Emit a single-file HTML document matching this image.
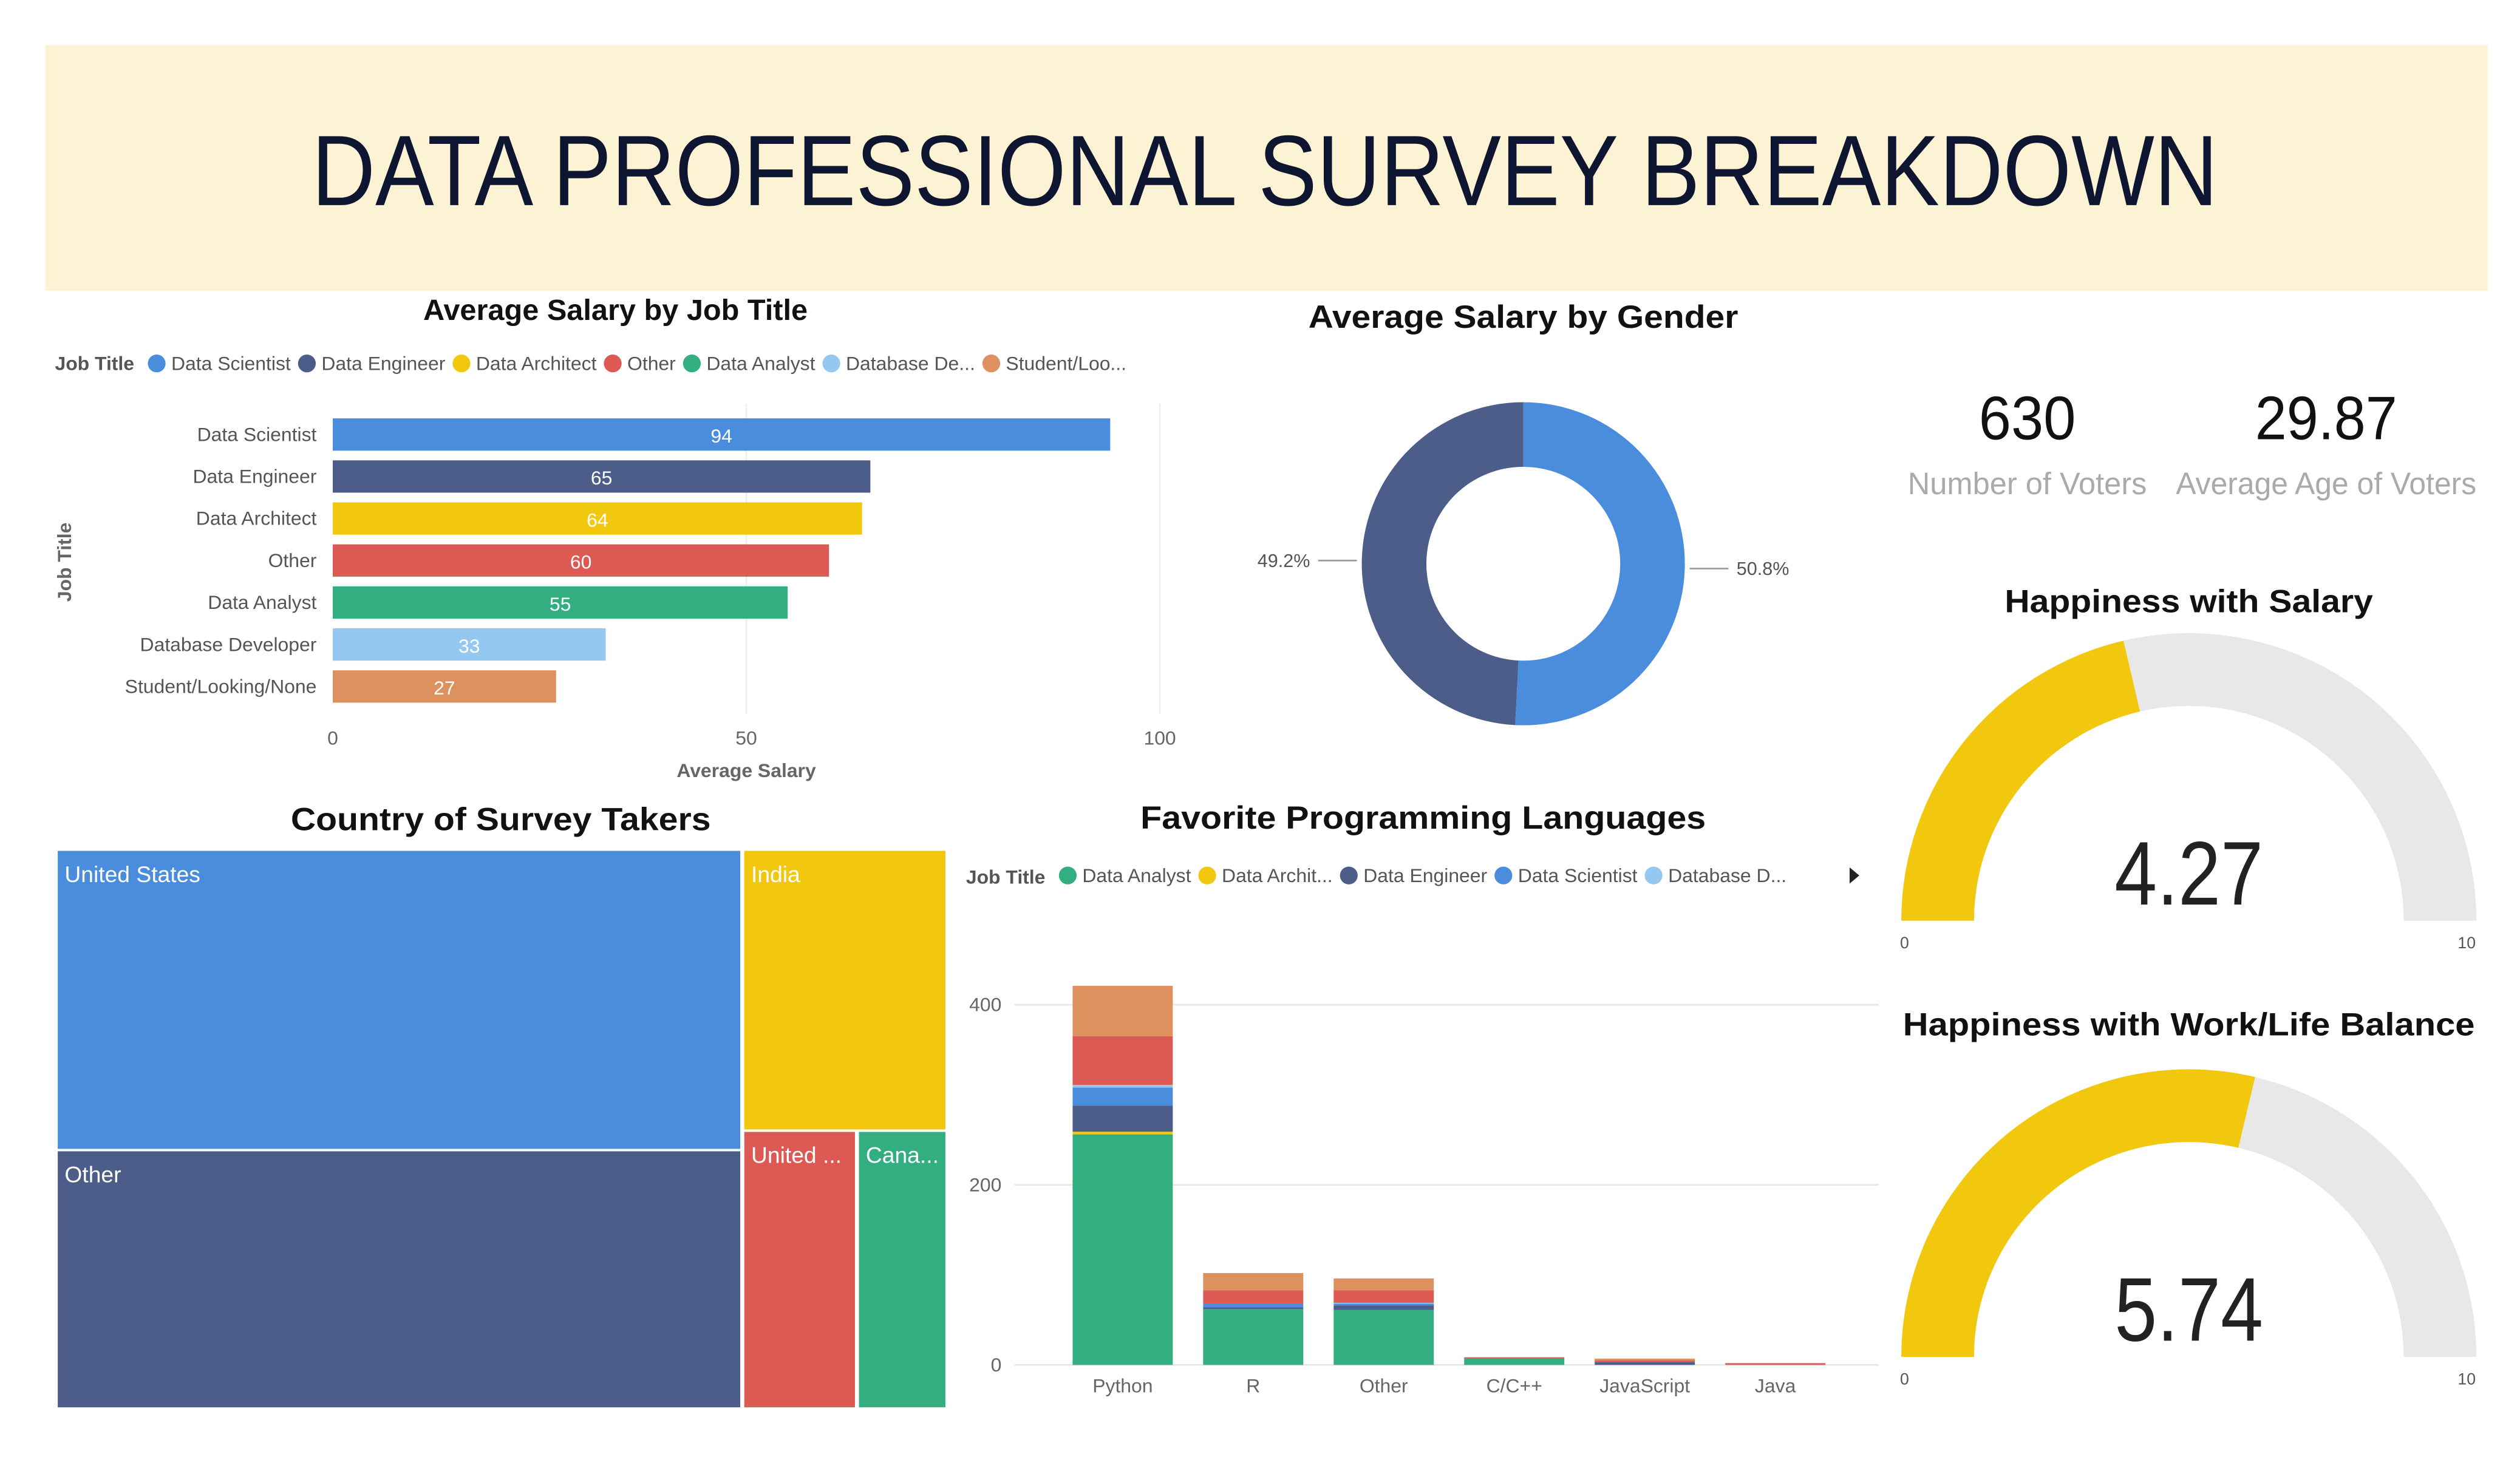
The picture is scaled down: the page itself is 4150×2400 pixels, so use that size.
<!DOCTYPE html>
<html><head><meta charset="utf-8"><style>
html,body{margin:0;padding:0;background:#fff;}
svg{display:block;font-family:"Liberation Sans",sans-serif;}
</style></head><body>
<svg id="s" width="4150" height="2400" viewBox="0 0 1560 902" preserveAspectRatio="none" xmlns="http://www.w3.org/2000/svg">
<rect x="28" y="28" width="1512" height="152" fill="#fcf3d4"/>
<text x="783" y="127" text-anchor="middle" font-size="62" fill="#0d1530" textLength="1180" lengthAdjust="spacingAndGlyphs">DATA PROFESSIONAL SURVEY BREAKDOWN</text>

<g id="jobChart">
<text x="381" y="198" text-anchor="middle" font-size="18" font-weight="bold" fill="#111" textLength="238" lengthAdjust="spacingAndGlyphs">Average Salary by Job Title</text>
<text x="34" y="229" font-size="12" font-weight="bold" fill="#555">Job Title</text>
<text transform="translate(44,348) rotate(-90)" text-anchor="middle" font-size="12" font-weight="bold" fill="#666">Job Title</text>
<text x="462" y="481" text-anchor="middle" font-size="12" font-weight="bold" fill="#666">Average Salary</text>
</g>

<g id="donut">
<text x="943" y="203" text-anchor="middle" font-size="20" font-weight="bold" fill="#111" textLength="266" lengthAdjust="spacingAndGlyphs">Average Salary by Gender</text>
</g>

<g>
<text x="1255" y="272" text-anchor="middle" font-size="38" fill="#111" textLength="60" lengthAdjust="spacingAndGlyphs">630</text>
<text x="1255" y="306" text-anchor="middle" font-size="19" fill="#aaa" textLength="148" lengthAdjust="spacingAndGlyphs">Number of Voters</text>
<text x="1440" y="272" text-anchor="middle" font-size="38" fill="#111" textLength="88" lengthAdjust="spacingAndGlyphs">29.87</text>
<text x="1440" y="306" text-anchor="middle" font-size="19" fill="#aaa" textLength="186" lengthAdjust="spacingAndGlyphs">Average Age of Voters</text>
</g>

<g id="gauges">
<text x="1355" y="379" text-anchor="middle" font-size="20" font-weight="bold" fill="#111" textLength="228" lengthAdjust="spacingAndGlyphs">Happiness with Salary</text>
<text x="1355" y="641" text-anchor="middle" font-size="20" font-weight="bold" fill="#111" textLength="354" lengthAdjust="spacingAndGlyphs">Happiness with Work/Life Balance</text>
</g>

<g id="tree">
<text x="310" y="514" text-anchor="middle" font-size="20" font-weight="bold" fill="#111" textLength="260" lengthAdjust="spacingAndGlyphs">Country of Survey Takers</text>
</g>

<g id="lang">
<text x="881" y="513" text-anchor="middle" font-size="20" font-weight="bold" fill="#111" textLength="350" lengthAdjust="spacingAndGlyphs">Favorite Programming Languages</text>
<text x="598" y="547" font-size="12" font-weight="bold" fill="#555">Job Title</text>
<path d="M1145 537 L1151 542 L1145 547 Z" fill="#222"/>
</g>
</svg>
<script>
// Job salary data
const jobTitles = ["Data Scientist","Data Engineer","Data Architect","Other","Data Analyst","Database Developer","Student/Looking/None"];
const jobSalaries = [94,65,64,60,55,33,27];
const jobColors = ["#4a8ddc","#4c5d8a","#f2c80f","#dd5a54","#33ae81","#95c8f0","#dd915f"];
const jobLegend = ["Data Scientist","Data Engineer","Data Architect","Other","Data Analyst","Database De...","Student/Loo..."];
const salaryTicks = [0,50,100];
// Gender data
const genderLabels = ["Female","Male"];
const genderShares = [49.2,50.8];
// KPI gauges
const gaugeValues = [4.27,5.74];
const gaugeMax = 10;
// Treemap
const countries = ["United States","Other","India","United ...","Cana..."];
// Languages
const languages = ["Python","R","Other","C/C++","JavaScript","Java"];
const seriesNames = ["Data Analyst","Data Architect","Data Engineer","Data Scientist","Database Developer","Other","Student/Looking/None"];
const sAnalyst = [256,62,61,7,0,0];
const sArchitect = [3,0,0,0,0,0];
const sEngineer = [29,2,5,0,3,0];
const sScientist = [20,4,2,0,0,0];
const sDbDev = [3,0,1,0,0,0];
const sOther = [54,15,14,1.5,2,2];
const sStudent = [56,19,13,0,2,0];
const langTicks = [0,200,400];
const langLegend = ["Data Analyst","Data Archit...","Data Engineer","Data Scientist","Database D..."];
const langLegendColors = ["#33ae81","#f2c80f","#4c5d8a","#4a8ddc","#95c8f0"];

const NS="http://www.w3.org/2000/svg";
function mk(parent,tag,attrs,text){const e=document.createElementNS(NS,tag);for(const k in attrs)e.setAttribute(k,attrs[k]);if(text!==undefined)e.textContent=text;parent.appendChild(e);return e;}

// ---- Job chart
const jc=document.getElementById('jobChart');
const xS=v=>206+v*5.12;
salaryTicks.forEach(t=>{
  if(t>0){const g=mk(jc,'line',{x1:xS(t),x2:xS(t),y1:250,y2:442,stroke:'#eee','stroke-width':1});
  
  }
  const l=mk(jc,'text',{x:xS(t),y:461,'text-anchor':'middle','font-size':12,fill:'#666'},t);
  
  
});
let lx=92;
jobLegend.forEach((n,i)=>{
  const c=mk(jc,'circle',{cx:lx+5,cy:225,r:5.5,fill:jobColors[i]});
  
  
  const t=mk(jc,'text',{x:lx+14,y:229,'font-size':12,fill:'#555'},n);
  
  
  lx+=14+t.getComputedTextLength()+5;
});
jobTitles.forEach((n,i)=>{
  const y=269+i*26;
  const r=mk(jc,'rect',{x:xS(0),y:y-10,width:xS(jobSalaries[i])-xS(0),height:20,fill:jobColors[i]});
  
  
  const l=mk(jc,'text',{x:196,y:y+4,'text-anchor':'end','font-size':12,fill:'#555'},n);
  
  
  const v=mk(jc,'text',{x:(xS(0)+xS(jobSalaries[i]))/2,y:y+5,'text-anchor':'middle','font-size':12,fill:'#fff'},jobSalaries[i]);
  
  
});

// ---- Donut
const dn=document.getElementById('donut');
const cx=943,cy=349,R=100,r0=60;
function arcPath(a0,a1,ro,ri,x,y){
  const p=(a,rr)=>[x+rr*Math.sin(a),y-rr*Math.cos(a)];
  const large=(a1-a0)>Math.PI?1:0;
  const [x1,y1]=p(a0,ro),[x2,y2]=p(a1,ro),[x3,y3]=p(a1,ri),[x4,y4]=p(a0,ri);
  return `M${x1} ${y1} A${ro} ${ro} 0 ${large} 1 ${x2} ${y2} L${x3} ${y3} A${ri} ${ri} 0 ${large} 0 ${x4} ${y4} Z`;
}
const tot=genderShares.reduce((a,b)=>a+b,0);
const maleA=genderShares[1]/tot*2*Math.PI;
const m=mk(dn,'path',{d:arcPath(0,maleA,R,r0,cx,cy),fill:'#4a8ddc'});


const f=mk(dn,'path',{d:arcPath(maleA,2*Math.PI,R,r0,cx,cy),fill:'#4c5d8a'});


mk(dn,'line',{x1:1046,x2:1070,y1:352,y2:352,stroke:'#999'});
mk(dn,'line',{x1:816,x2:840,y1:347,y2:347,stroke:'#999'});
const l1=mk(dn,'text',{x:1075,y:356,'font-size':11.5,fill:'#555'},genderShares[1].toFixed(1)+'%');


const l2=mk(dn,'text',{x:811,y:351,'font-size':11.5,fill:'#555','text-anchor':'end'},genderShares[0].toFixed(1)+'%');



// ---- Gauges
const gg=document.getElementById('gauges');
[570,840].forEach((gy,i)=>{
  const gx=1355,GR=178,gr=133;
  const bg=mk(gg,'path',{d:arcPath(-Math.PI/2,Math.PI/2,GR,gr,gx,gy),fill:'#e8e8e8'});
  
  
  const a=-Math.PI/2+Math.PI*gaugeValues[i]/gaugeMax;
  const fg=mk(gg,'path',{d:arcPath(-Math.PI/2,a,GR,gr,gx,gy),fill:'#f2c80f'});
  
  
  const v=mk(gg,'text',{x:gx,y:gy-10,'text-anchor':'middle','font-size':56,fill:'#222',textLength:92,lengthAdjust:'spacingAndGlyphs'},gaugeValues[i].toFixed(2));
  
  
  const a0=mk(gg,'text',{x:1179,y:gy+17,'text-anchor':'middle','font-size':10,fill:'#555'},'0');
  
  
  const a1=mk(gg,'text',{x:1527,y:gy+17,'text-anchor':'middle','font-size':10,fill:'#555'},String(gaugeMax));
  
  
});

// ---- Treemap
const tr=document.getElementById('tree');
const cells=[[35,526,424,186,'#4a8ddc'],[35,712,424,160,'#4c5d8a'],[460,526,126,174,'#f2c80f'],[460,700,70,172,'#dd5a54'],[531,700,55,172,'#33ae81']];
cells.forEach((c,i)=>{
  const r=mk(tr,'rect',{x:c[0],y:c[1],width:c[2],height:c[3],fill:c[4],stroke:'#fff','stroke-width':1.5});
  
  
  const t=mk(tr,'text',{x:c[0]+5,y:c[1]+20,'font-size':14,fill:'#fff'},countries[i]);
  
  
});

// ---- Languages
const lg=document.getElementById('lang');
const yS=v=>845-v*0.5575;
langTicks.forEach(t=>{
  const g=mk(lg,'line',{x1:628,x2:1163,y1:yS(t),y2:yS(t),stroke:'#e6e6e6','stroke-width':1});
  
  
  const l=mk(lg,'text',{x:620,y:yS(t)+4,'text-anchor':'end','font-size':12,fill:'#666'},t);
  
  
});
let lx2=656;
langLegend.forEach((n,i)=>{
  const c=mk(lg,'circle',{cx:lx2+5,cy:542,r:5.5,fill:langLegendColors[i]});
  
  
  const t=mk(lg,'text',{x:lx2+14,y:546,'font-size':12,fill:'#555'},n);
  
  
  lx2+=14+t.getComputedTextLength()+5;
});
const series=[sAnalyst,sArchitect,sEngineer,sScientist,sDbDev,sOther,sStudent];
languages.forEach((n,i)=>{
  const xc=695+i*80.8;
  let base=0;
  series.forEach((s,k)=>{
    const v=s[i]; if(!v) return;
    const r=mk(lg,'rect',{x:xc-31,y:yS(base+v),width:62,height:yS(base)-yS(base+v),fill:jobColors[[4,2,1,0,5,3,6][k]]});
    
    
    base+=v;
  });
  const l=mk(lg,'text',{x:xc,y:862,'text-anchor':'middle','font-size':12,fill:'#666'},n);
  
  
});
</script>
</body></html>
